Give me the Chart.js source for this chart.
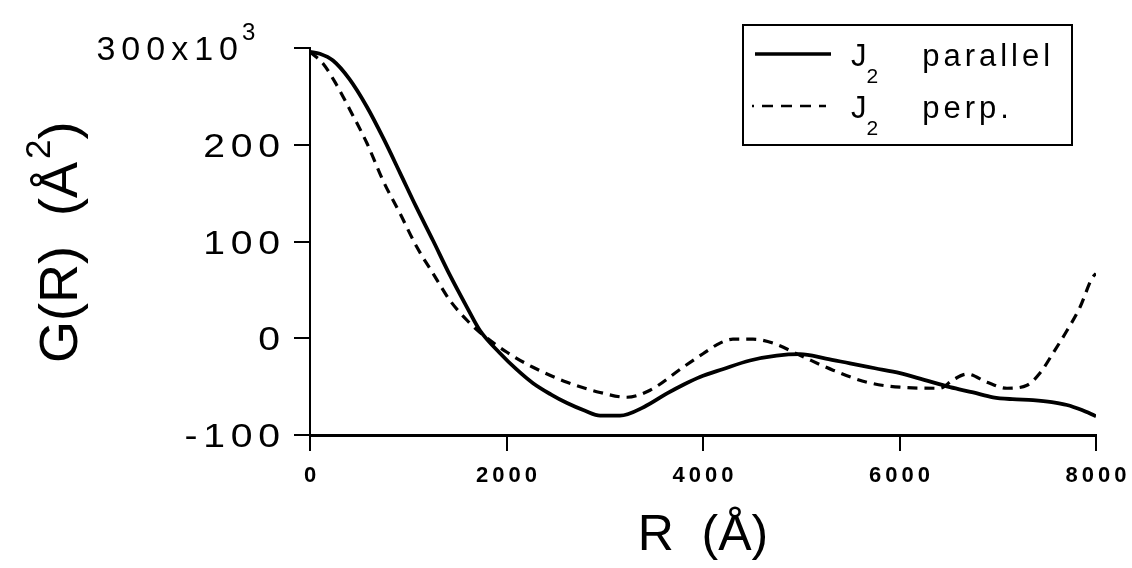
<!DOCTYPE html>
<html>
<head>
<meta charset="utf-8">
<script src="https://cdn.jsdelivr.net/npm/chart.js@4.4.1/dist/chart.umd.min.js"></script>
<style>
  html, body { margin: 0; padding: 0; background: #fff; }
  #paper { display: block; }
</style>
</head>
<body>
<canvas id="paper" width="1132" height="568"></canvas>
<script>
// G(R) in units of 10^3 Å^2, R in Å
const rParallel = [0, 100, 234, 400, 580, 750, 916, 1080, 1252, 1420, 1598, 1730, 1934, 2100, 2270,
  2450, 2616, 2800, 2952, 3155, 3400, 3634, 3800, 3969, 4200, 4478, 4750, 4987, 5250, 5496,
  5750, 6005, 6250, 6514, 6750, 6952, 7150, 7359, 7550, 7705, 7850, 8000];
const gParallel = [296, 294, 287, 268, 239, 206, 171, 136, 101, 66, 32, 8, -15.5, -32, -46.5,
  -58, -67, -75, -80, -80, -71, -57, -48, -40, -32, -23, -18, -16.5, -21, -26,
  -31, -36, -43, -50.6, -56, -61, -63, -64, -66, -69, -74, -80.6];

const rPerp = [0, 132, 270, 407, 580, 743, 916, 1089, 1252, 1425, 1598, 1730, 2005, 2270, 2616,
  2952, 3226, 3461, 3796, 4000, 4173, 4305, 4509, 4712, 4987, 5323, 5669, 6005, 6412,
  6545, 6687, 6891, 7094, 7298, 7430, 7562, 7705, 7837, 7959, 8000];
const gPerp = [296, 284, 262, 236, 201.5, 163, 129, 94, 67, 39, 18.6, 6, -14.5, -30, -45.5,
  -56, -61, -53.7, -30, -16, -5, -1, -1, -5, -17.6, -33, -45.5, -50.6, -51.7,
  -43, -37, -45.5, -51.7, -48.6, -36, -15.5, 8, 32, 62, 67];

const xTicks = [0, 2000, 4000, 6000, 8000];
const yTicks = [-100, 0, 100, 200, 300];

const FONT = '"Liberation Sans", Arial, Helvetica, sans-serif';

function pts(xs, ys) {
  return xs.map((x, i) => ({x: x, y: ys[i]}));
}

// draws text one glyph at a time so the wide tracking of the labels is reproduced
function spacedWidth(ctx, text, ls) {
  let w = 0;
  for (const ch of text) w += ctx.measureText(ch).width + ls;
  return w - ls;
}
function spacedText(ctx, text, x, y, ls, align) {
  const w = spacedWidth(ctx, text, ls);
  let cx = align === 'right' ? x - w : align === 'center' ? x - w / 2 : x;
  ctx.textAlign = 'left';
  for (const ch of text) {
    ctx.fillText(ch, cx, y);
    cx += ctx.measureText(ch).width + ls;
  }
  return cx - ls;
}
// same, horizontally widened by k (the axis numbers use an extended face)
function wideText(ctx, text, x, y, ls, k, align) {
  ctx.save();
  ctx.translate(x, y);
  ctx.scale(k, 1);
  const end = spacedText(ctx, text, 0, 0, ls, align);
  ctx.restore();
  return x + end * k;
}

// legend label: text before '₂', a lowered small 2, then the rest
// (each leading space of the rest is a fixed 20px gap)
function subLabel(ctx, label, x, y, ls) {
  const [base, rest] = label.split('₂');
  ctx.font = '31px ' + FONT;
  let cx = spacedText(ctx, base, x, y, ls, 'left');
  ctx.font = '21px ' + FONT;
  cx = spacedText(ctx, '2', cx, y + 17, ls, 'left') + ls;
  const word = rest.trimStart();
  cx += (rest.length - word.length) * 20;
  ctx.font = '31px ' + FONT;
  spacedText(ctx, word, cx, y, ls, 'left');
}

const paperText = {
  id: 'paperText',
  afterDraw(chart) {
    const ctx = chart.ctx;
    const xs = chart.scales.x, ys = chart.scales.y;
    ctx.save();
    ctx.fillStyle = '#000';
    ctx.strokeStyle = '#000';
    ctx.textBaseline = 'alphabetic';

    // x tick labels
    ctx.font = 'bold 22px ' + FONT;
    xTicks.forEach(v => {
      spacedText(ctx, String(v), xs.getPixelForValue(v), 482, 4, 'center');
    });

    // y tick labels, the top one carries the x10^3 factor
    yTicks.forEach(v => {
      const py = ys.getPixelForValue(v) + 12;
      ctx.font = '34px ' + FONT;
      if (v === 300) {
        const end = spacedText(ctx, '300x10', 238, py, 6, 'right');
        ctx.font = '24px ' + FONT;
        spacedText(ctx, '3', end + 4, py - 20, 0, 'left');
      } else {
        wideText(ctx, String(v), 280, py, 5, 1.15, 'right');
      }
    });

    // axis titles
    ctx.font = '50px ' + FONT;
    ctx.textAlign = 'center';
    ctx.fillText('R  (Å)', (xs.left + xs.right) / 2, 550);

    ctx.save();
    ctx.translate(77, 363);
    ctx.rotate(-Math.PI / 2);
    ctx.textAlign = 'left';
    ctx.font = '54px ' + FONT;
    const head = 'G(R)  (Å';
    ctx.fillText(head, 0, 0);
    let w = ctx.measureText(head).width + 3;
    ctx.font = '35px ' + FONT;
    ctx.fillText('2', w, -27);
    w += ctx.measureText('2').width;
    ctx.font = '54px ' + FONT;
    ctx.fillText(')', w, 0);
    ctx.restore();

    // legend box
    ctx.lineWidth = 2;
    ctx.strokeRect(743, 25, 329, 120);
    const rows = [54, 106];
    chart.data.datasets.forEach((ds, i) => {
      const ly = rows[i];
      const dashed = ds.borderDash && ds.borderDash.length;
      ctx.save();
      ctx.lineWidth = dashed ? 2.5 : 3.5;
      ctx.setLineDash(dashed ? [11, 8] : []);
      ctx.lineDashOffset = dashed ? 9 : 0;
      ctx.beginPath();
      ctx.moveTo(dashed ? 752 : 755, ly);
      ctx.lineTo(dashed ? 826 : 831, ly);
      ctx.stroke();
      ctx.restore();
      subLabel(ctx, ds.label, 851, ly + 12, 4);
    });

    ctx.restore();
  }
};

new Chart(document.getElementById('paper'), {
  type: 'line',
  data: {
    datasets: [
      {
        label: 'J₂  parallel',
        data: pts(rParallel, gParallel),
        borderColor: '#000',
        borderWidth: 3.8,
        borderDash: [],
        pointRadius: 0,
        cubicInterpolationMode: 'monotone',
        fill: false
      },
      {
        label: 'J₂  perp.',
        data: pts(rPerp, gPerp),
        borderColor: '#000',
        borderWidth: 3.2,
        borderDash: [10, 7],
        pointRadius: 0,
        cubicInterpolationMode: 'monotone',
        fill: false
      }
    ]
  },
  options: {
    responsive: false,
    animation: false,
    events: [],
    layout: {padding: {top: 48, right: 36, bottom: 0, left: 0}},
    plugins: {
      legend: {display: false},
      tooltip: {enabled: false}
    },
    scales: {
      x: {
        type: 'linear',
        min: 0,
        max: 8000,
        afterFit: s => { s.height = 133; },
        afterBuildTicks: s => { s.ticks = xTicks.map(v => ({value: v})); },
        ticks: {display: false},
        border: {color: '#000', width: 3},
        grid: {drawOnChartArea: false, drawTicks: true, tickLength: 16, color: '#000', lineWidth: 2}
      },
      y: {
        type: 'linear',
        min: -100,
        max: 300,
        afterFit: s => { s.width = 310; },
        afterBuildTicks: s => { s.ticks = yTicks.map(v => ({value: v})); },
        ticks: {display: false},
        border: {color: '#000', width: 2},
        grid: {drawOnChartArea: false, drawTicks: true, tickLength: 16, color: '#000', lineWidth: 2}
      }
    }
  },
  plugins: [paperText]
});
</script>
</body>
</html>
